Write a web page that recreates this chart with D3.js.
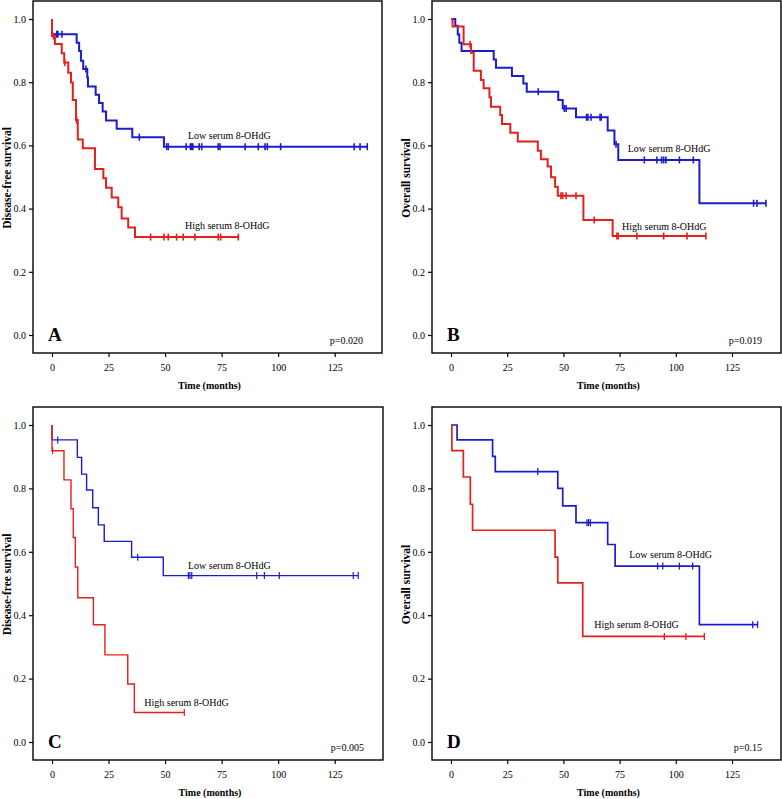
<!DOCTYPE html>
<html>
<head>
<meta charset="utf-8">
<script src="https://cdn.jsdelivr.net/npm/d3@7"></script>
<style>
  html, body { margin: 0; padding: 0; background: #fff; }
  svg { display: block; }
  text { font-family: "Liberation Serif", "Times New Roman", serif; fill: #000; }
</style>
</head>
<body>
<svg id="chart" width="782" height="799"></svg>
<script>
// ---------- DATA (times in months, survival proportion) ----------
const xTicks = [0, 25, 50, 75, 100, 125];
const yTicks = [0.0, 0.2, 0.4, 0.6, 0.8, 1.0];
const groupNames = ["Low serum 8-OHdG", "High serum 8-OHdG"];
const panelLetters = ["A", "B", "C", "D"];
const yTitles = ["Disease-free survival", "Overall survival", "Disease-free survival", "Overall survival"];
const xTitle = "Time (months)";
const pValues = ["p=0.020", "p=0.019", "p=0.005", "p=0.15"];

// Panel A
const aLowTimes = [0, 10.9, 12.0, 12.8, 13.8, 15.6, 15.9, 19.3, 20.8, 22.4, 23.9, 28.6, 35.5, 49.5];
const aLowSurv  = [0.952, 0.925, 0.899, 0.868, 0.842, 0.815, 0.786, 0.760, 0.734, 0.707, 0.679, 0.653, 0.626, 0.596];
const aLowCens  = [2.1, 2.6, 4.4, 15.0, 38.6, 50.7, 51.4, 59.3, 61.2, 61.8, 62.3, 65.1, 66.2, 73.5, 74.3, 85.4, 91.2, 94.2, 95.2, 101.1, 133.6, 136.2, 139.4];
const aHighTimes = [0, 1.3, 4.3, 5.4, 7.2, 8.4, 9.2, 10.6, 11.4, 13.6, 19.0, 22.7, 23.9, 26.4, 29.3, 30.8, 33.7, 36.7];
const aHighSurv  = [0.946, 0.921, 0.892, 0.862, 0.830, 0.799, 0.744, 0.680, 0.619, 0.591, 0.525, 0.496, 0.466, 0.435, 0.404, 0.369, 0.340, 0.310];
const aHighCens  = [0.6, 5.6, 10.9, 43.6, 49.5, 51.4, 55.1, 58.0, 63.2, 73.5, 74.6, 82.4];

// Panel B
const bLowTimes = [1.9, 3.0, 3.7, 4.7, 19.0, 20.0, 27.1, 32.2, 33.7, 47.7, 49.7, 55.6, 69.7, 72.7, 74.4, 110.5];
const bLowSurv  = [0.979, 0.951, 0.925, 0.899, 0.872, 0.846, 0.820, 0.796, 0.770, 0.744, 0.717, 0.689, 0.647, 0.604, 0.554, 0.417];
const bLowCens  = [38.8, 50.4, 51.2, 60.3, 60.9, 62.3, 66.3, 66.8, 73.4, 86.0, 91.6, 93.7, 94.6, 95.6, 101.6, 107.8, 134.6, 136.1, 140.1];
const bHighTimes = [0.7, 5.6, 8.9, 10.1, 13.3, 14.5, 17.1, 17.8, 21.9, 22.7, 26.4, 29.7, 38.6, 40.0, 43.0, 44.5, 46.3, 47.5, 58.9, 71.9];
const bHighSurv  = [0.976, 0.920, 0.893, 0.836, 0.807, 0.781, 0.752, 0.722, 0.696, 0.668, 0.640, 0.612, 0.583, 0.556, 0.533, 0.499, 0.469, 0.441, 0.364, 0.313];
const bHighCens  = [8.5, 48.9, 49.7, 51.2, 55.6, 63.7, 73.8, 74.4, 82.7, 94.6, 105.0, 113.4];

// Panel C
const cLowTimes = [0, 11.2, 13.1, 15.3, 18.0, 20.5, 23.1, 35.2, 49.2];
const cLowSurv  = [0.953, 0.898, 0.845, 0.795, 0.739, 0.685, 0.633, 0.583, 0.525];
const cLowCens  = [2.5, 37.9, 60.3, 61.0, 61.8, 90.5, 93.9, 100.5, 133.2, 135.4];
const cHighTimes = [0, 5.3, 8.4, 9.4, 10.3, 11.4, 18.3, 23.4, 33.5, 36.4];
const cHighSurv  = [0.919, 0.827, 0.736, 0.645, 0.552, 0.455, 0.370, 0.275, 0.183, 0.093];
const cHighCens  = [0.3, 58.5];

// Panel D
const dLowTimes = [2.7, 18.5, 19.7, 47.5, 49.7, 55.6, 69.7, 73.0, 110.5];
const dLowSurv  = [0.953, 0.901, 0.853, 0.800, 0.745, 0.692, 0.623, 0.555, 0.370];
const dLowCens  = [38.6, 60.5, 61.2, 62.0, 91.9, 94.2, 101.6, 107.5, 134.2, 136.4];
const dHighTimes = [0.4, 5.5, 8.6, 9.6, 46.3, 47.5, 58.6];
const dHighSurv  = [0.919, 0.836, 0.750, 0.668, 0.583, 0.502, 0.333];
const dHighCens  = [94.9, 104.5, 112.7];

// Series-label anchors (data coordinates)
const lowLabelAt  = [[60.1, 0.620], [78.6, 0.580], [60.1, 0.547], [79.3, 0.581]];
const highLabelAt = [[58.8, 0.334], [76.1, 0.332], [40.8, 0.114], [63.7, 0.360]];

// ---------- LAYOUT ----------
const frames = [
  { L: 33,  T: 1,   R: 382, B: 353, lw: 2.0 },
  { L: 432, T: 1,   R: 781, B: 353, lw: 2.0 },
  { L: 33,  T: 407, R: 383, B: 760, lw: 1.4 },
  { L: 432, T: 407, R: 781, B: 760, lw: 1.7 }
];
const seriesData = [
  [[aLowTimes, aLowSurv, aLowCens], [aHighTimes, aHighSurv, aHighCens]],
  [[bLowTimes, bLowSurv, bLowCens], [bHighTimes, bHighSurv, bHighCens]],
  [[cLowTimes, cLowSurv, cLowCens], [cHighTimes, cHighSurv, cHighCens]],
  [[dLowTimes, dLowSurv, dLowCens], [dHighTimes, dHighSurv, dHighCens]]
];
const colors = ["#1c1ccc", "#e3201b"];
const xScaleWidth = [282.7, 281, 282.7, 281];

const svg = d3.select("#chart");

frames.forEach((f, i) => {
  const g = svg.append("g");
  const x = d3.scaleLinear().domain([0, 125]).range([f.L + 19, f.L + 19 + xScaleWidth[i]]);
  const y = d3.scaleLinear().domain([0, 1]).range([f.B - 18, f.T + 18]);

  // Y axis
  const yAx = g.append("g").attr("transform", `translate(${f.L},0)`)
    .call(d3.axisLeft(y).tickValues(yTicks).tickFormat(d3.format(".1f")).tickSize(4).tickPadding(3));
  // X axis
  const xAx = g.append("g").attr("transform", `translate(0,${f.B})`)
    .call(d3.axisBottom(x).tickValues(xTicks).tickFormat(d3.format("d")).tickSize(4).tickPadding(7));
  [yAx, xAx].forEach(ax => {
    ax.select(".domain").remove();
    ax.selectAll("line").attr("stroke", "#000").attr("stroke-width", 1.2);
    ax.selectAll("text").style("font-family", '"Liberation Serif", serif').style("font-size", "10px");
  });

  // Frame
  g.append("rect").attr("x", f.L).attr("y", f.T).attr("width", f.R - f.L).attr("height", f.B - f.T)
    .attr("fill", "none").attr("stroke", "#000").attr("stroke-width", 1.4);

  // Titles
  g.append("text").attr("x", (f.L + f.R) / 2 + 2).attr("y", f.B + 36)
    .attr("text-anchor", "middle").style("font-size", "10px").style("font-weight", "bold").text(xTitle);
  g.append("text").attr("transform", `translate(${f.L - 22},${(f.T + f.B) / 2 + 1}) rotate(-90)`)
    .attr("text-anchor", "middle").style("font-size", "11.5px").style("font-weight", "bold").text(yTitles[i]);

  // Panel letter and p-value
  g.append("text").attr("x", f.L + 15).attr("y", f.B - 12)
    .style("font-size", "19px").style("font-weight", "bold").text(panelLetters[i]);
  g.append("text").attr("x", f.R - 19).attr("y", f.B - 9).attr("text-anchor", "end")
    .style("font-size", "10px").text(pValues[i]);

  // Curves
  seriesData[i].forEach((s, k) => {
    const [times, surv, cens] = s;
    const tEnd = Math.max(times[times.length - 1], cens.length ? d3.max(cens) : 0);
    const pts = [[0, 1]];
    times.forEach((t, j) => pts.push([t, surv[j]]));
    pts.push([tEnd, surv[surv.length - 1]]);
    const line = d3.line().x(d => x(d[0])).y(d => y(d[1])).curve(d3.curveStepAfter);
    g.append("path").datum(pts).attr("d", line).attr("fill", "none")
      .attr("stroke", colors[k]).attr("stroke-width", f.lw);
    const survAt = c => {
      let v = 1;
      times.forEach((t, j) => { if (t <= c) v = surv[j]; });
      return v;
    };
    g.selectAll(null).data(cens).enter().append("line")
      .attr("x1", d => x(d)).attr("x2", d => x(d))
      .attr("y1", d => y(survAt(d)) - 3.5).attr("y2", d => y(survAt(d)) + 3.5)
      .attr("stroke", colors[k]).attr("stroke-width", Math.max(1.2, f.lw - 0.4));
  });

  // Series labels
  const la = lowLabelAt[i], ha = highLabelAt[i];
  g.append("text").attr("x", x(la[0])).attr("y", y(la[1])).style("font-size", "10px").text(groupNames[0]);
  g.append("text").attr("x", x(ha[0])).attr("y", y(ha[1])).style("font-size", "10px").text(groupNames[1]);
});
</script>
</body>
</html>
